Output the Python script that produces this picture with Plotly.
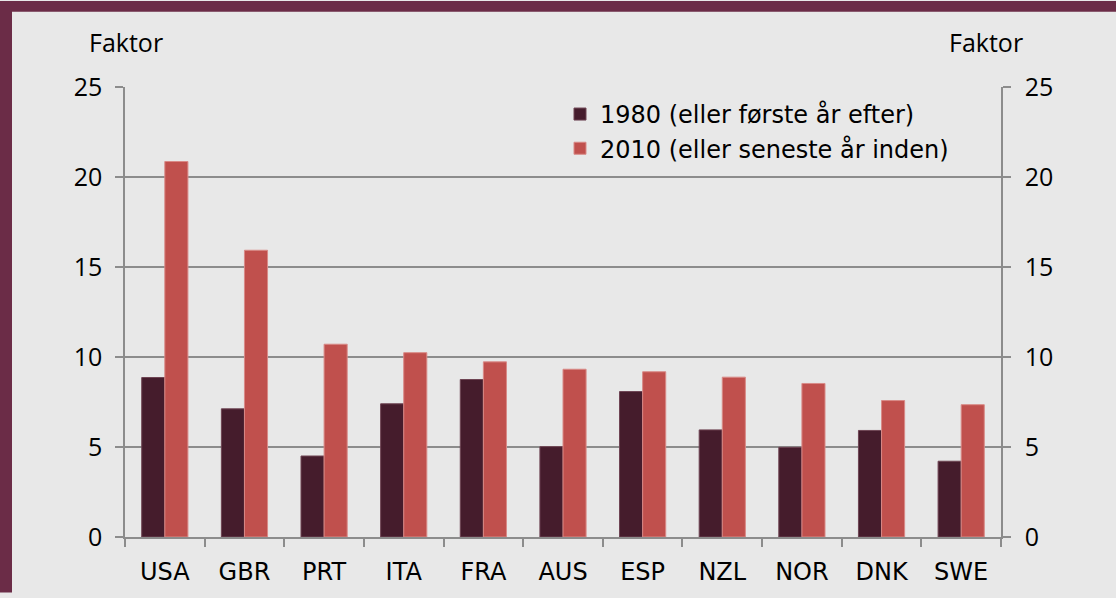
import plotly.graph_objects as go

countries = ["USA", "GBR", "PRT", "ITA", "FRA", "AUS", "ESP", "NZL", "NOR", "DNK", "SWE"]
v1980 = [8.86, 7.12, 4.50, 7.40, 8.75, 5.02, 8.08, 5.95, 4.98, 5.92, 4.21]
v2010 = [20.86, 15.93, 10.71, 10.24, 9.73, 9.32, 9.18, 8.88, 8.53, 7.58, 7.35]
name1980 = "1980 (eller første år efter)"
name2010 = "2010 (eller seneste år inden)"
y_ticks = [0, 5, 10, 15, 20, 25]

W, H = 1116, 598
L, R, T, B = 125, 115, 87, 56
pw, ph = W - L - R, H - T - B

BG = "#E8E8E8"
MAROON = "#6B2C47"
GRID = "#8C8C8C"

fig = go.Figure()
fig.add_trace(go.Bar(x=countries, y=v1980, name=name1980, offsetgroup="a",
                     marker=dict(color="#451C2C", line=dict(color="#6E4453", width=1))))
fig.add_trace(go.Bar(x=countries, y=v2010, name=name2010, offsetgroup="b", yaxis="y2",
                     marker=dict(color="#C0504D", line=dict(color="#D98A87", width=1))))

def px_x(p):
    return (p - L) / pw

def px_y(p):
    return (H - B - p) / ph

yax_common = dict(range=[0, 25], tickvals=y_ticks, showline=True, linecolor=GRID, linewidth=1.5,
                  ticks="outside", ticklen=8, tickcolor=GRID, tickwidth=1.5, zeroline=False,
                  tickfont=dict(family="Open Sans", size=25), fixedrange=True)

fig.update_layout(
    width=W, height=H,
    margin=dict(l=L, r=R, t=T, b=B, pad=0),
    paper_bgcolor=BG, plot_bgcolor=BG,
    barmode="group", bargap=0.42, bargroupgap=0,
    font=dict(family="DejaVu Sans", size=24, color="#000000"),
    xaxis=dict(showline=True, linecolor=GRID, linewidth=1.5, ticks="outside", ticklen=8,
               tickcolor=GRID, tickwidth=1.5, tickson="boundaries", showgrid=False,
               tickfont=dict(family="DejaVu Sans", size=24), ticklabelstandoff=12, fixedrange=True),
    yaxis=dict(**yax_common, showgrid=True, gridcolor=GRID, gridwidth=1.5, ticklabelstandoff=8),
    yaxis2=dict(**yax_common, overlaying="y", side="right", showgrid=False, ticklabelstandoff=9),
    legend=dict(x=px_x(560), y=px_y(92), xanchor="left", yanchor="top",
                bgcolor="rgba(0,0,0,0)", font=dict(family="DejaVu Sans", size=24),
                traceorder="normal"),
    showlegend=True,
)

fig.add_annotation(text="Faktor", xref="paper", yref="paper", x=px_x(125.5), y=px_y(41),
                   showarrow=False, font=dict(family="Open Sans", size=25), xanchor="center", yanchor="middle")
fig.add_annotation(text="Faktor", xref="paper", yref="paper", x=px_x(985.5), y=px_y(41),
                   showarrow=False, font=dict(family="Open Sans", size=25), xanchor="center", yanchor="middle")

fig.add_shape(type="rect", xref="paper", yref="paper", x0=px_x(0), x1=px_x(W), y0=px_y(11), y1=px_y(0),
              fillcolor=MAROON, line=dict(width=0), layer="above")
fig.add_shape(type="rect", xref="paper", yref="paper", x0=px_x(0), x1=px_x(12), y0=px_y(H), y1=px_y(0),
              fillcolor=MAROON, line=dict(width=0), layer="above")

fig.write_html("out.html", config={"displayModeBar": False},
               post_script="document.body.style.margin='0';document.body.style.overflow='hidden';")
